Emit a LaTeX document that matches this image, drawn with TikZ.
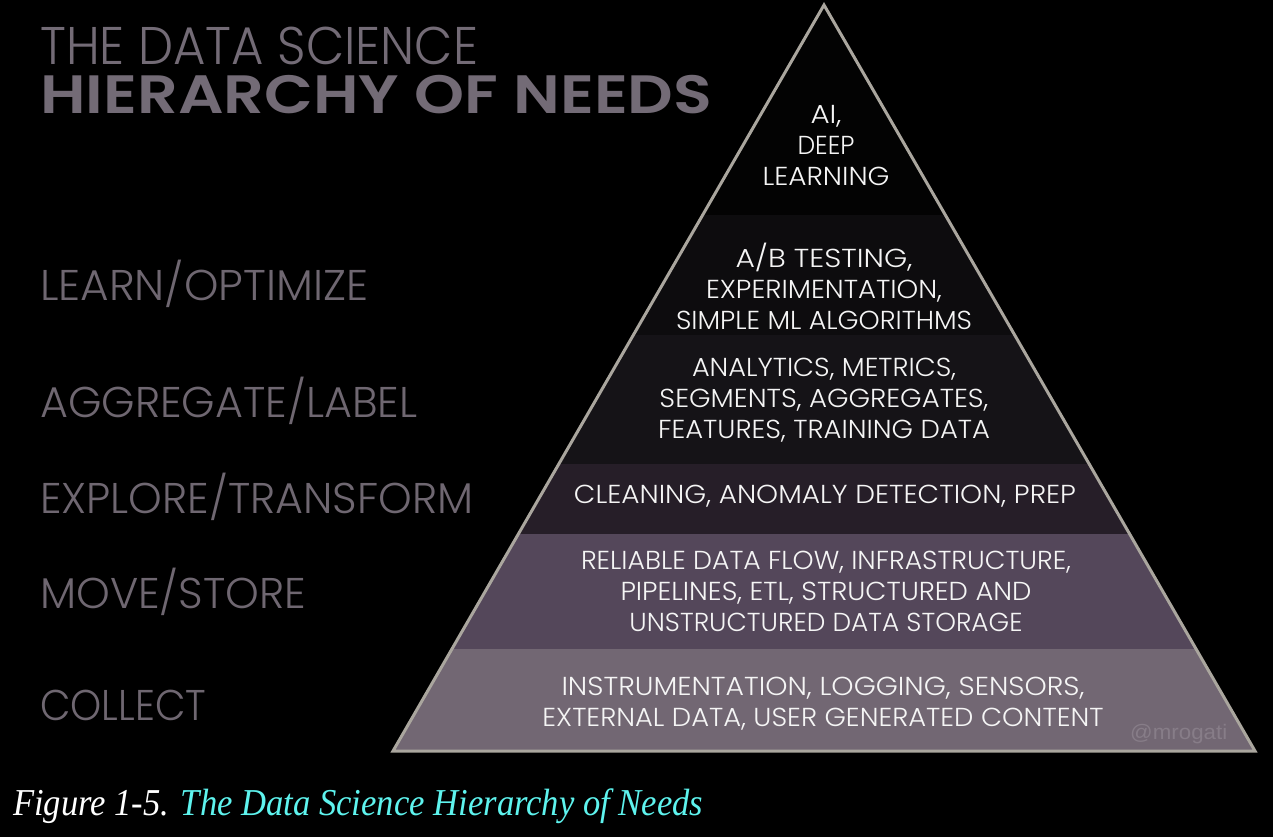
\documentclass[tikz,border=0pt]{standalone}
\usepackage{fontspec}
\usepackage{graphicx}
\newfontfamily\futl{Poppins Light}
\newfontfamily\futb{Poppins SemiBold}
\newfontfamily\capfont{Liberation Serif}
\newfontfamily\wmfont{Liberation Sans}
\newcommand\fitw[2]{\resizebox{#1pt}{\height}{#2}}
\definecolor{titlecol}{HTML}{736B76}
\definecolor{labcol}{HTML}{6F6771}
\definecolor{layA}{HTML}{030303}
\definecolor{layB}{HTML}{0D0C0E}
\definecolor{layC}{HTML}{151317}
\definecolor{layD}{HTML}{261E28}
\definecolor{layE}{HTML}{54475A}
\definecolor{layF}{HTML}{726773}
\definecolor{edgecol}{HTML}{AAA69E}
\definecolor{capcyan}{HTML}{5EF3EE}
\definecolor{wmcol}{HTML}{877D88}
\definecolor{txtcol}{HTML}{F5F5F5}
\tikzset{
  laytext/.style={text=txtcol, font=\futl\fontsize{26}{31}\selectfont, align=center, inner sep=0pt},
  sidelabel/.style={text=labcol, font=\futl\fontsize{43}{50}\selectfont, anchor=base west, inner sep=0pt},
  layerfill/.style={fill=#1, draw=none},
}
\begin{document}
\begin{tikzpicture}[x=1pt,y=-1pt]
\fill[black] (0,0) rectangle (1273,837);
\useasboundingbox (0,0) rectangle (1273,837);
% layers
\fill[layerfill=layA] (824,5) -- (945.3,215) -- (702.7,215) -- cycle;
\fill[layerfill=layB] (702.7,215) -- (945.3,215) -- (1014.6,335) -- (633.4,335) -- cycle;
\fill[layerfill=layC] (633.4,335) -- (1014.6,335) -- (1089.2,464) -- (558.8,464) -- cycle;
\fill[layerfill=layD] (558.8,464) -- (1089.2,464) -- (1129.6,534) -- (518.4,534) -- cycle;
\fill[layerfill=layE] (518.4,534) -- (1129.6,534) -- (1196,649) -- (452,649) -- cycle;
\fill[layerfill=layF] (452,649) -- (1196,649) -- (1255,751) -- (393,751) -- cycle;
% outline
\draw[edgecol, line width=3pt, line join=miter] (824,5) -- (1255,751) -- (393,751) -- cycle;
% watermark
\node[text=wmcol, font=\wmfont\fontsize{21}{24}\selectfont, anchor=base west, inner sep=0pt] (wm) at (1130,739) {\fitw{97}{@mrogati}};
% layer texts
\node[laytext] (t1) at (826,146) {\fitw{31}{AI,}\\\fitw{57}{DEEP}\\\fitw{127}{LEARNING}};
\node[laytext] (t2) at (824,286) {\fitw{177}{A/B TESTING,}\\\fitw{236}{EXPERIMENTATION,}\\\fitw{296}{SIMPLE ML ALGORITHMS}};
\node[laytext] (t3) at (824,400) {\fitw{264}{ANALYTICS, METRICS,}\\\fitw{329}{SEGMENTS, AGGREGATES,}\\\fitw{332}{FEATURES, TRAINING DATA}};
\node[laytext] (t4) at (825,496) {\fitw{502}{CLEANING, ANOMALY DETECTION, PREP}};
\node[laytext] (t5) at (826,591) {\fitw{490}{RELIABLE DATA FLOW, INFRASTRUCTURE,}\\\fitw{411}{PIPELINES, ETL, STRUCTURED AND}\\\fitw{393}{UNSTRUCTURED DATA STORAGE}};
\node[laytext] (t6) at (823,704) {\fitw{523}{INSTRUMENTATION, LOGGING, SENSORS,}\\\fitw{561}{EXTERNAL DATA, USER GENERATED CONTENT}};
% side labels
\node[sidelabel] (l1) at (40,300) {\fitw{328}{LEARN/OPTIMIZE}};
\node[sidelabel] (l2) at (40,417) {\fitw{377}{AGGREGATE/LABEL}};
\node[sidelabel] (l3) at (40,513) {\fitw{433}{EXPLORE/TRANSFORM}};
\node[sidelabel] (l4) at (40,608) {\fitw{266}{MOVE/STORE}};
\node[sidelabel] (l5) at (40,720) {\fitw{166}{COLLECT}};
% title
\node[text=titlecol, font=\futl\fontsize{53}{60}\selectfont, anchor=base west, inner sep=0pt] (title1) at (40,65) {\fitw{438}{THE DATA SCIENCE}};
\node[text=titlecol, font=\futb\fontsize{54}{60}\selectfont, anchor=base west, inner sep=0pt] (title2) at (40,114) {\fitw{672}{HIERARCHY OF NEEDS}};
% caption
\node[font=\capfont\itshape\fontsize{38}{44}\selectfont, anchor=base west, inner sep=0pt] (caption) at (13,815) {\fitw{690}{\color{white}Figure 1-5. \color{capcyan}The Data Science Hierarchy of Needs}};
\end{tikzpicture}
\end{document}
